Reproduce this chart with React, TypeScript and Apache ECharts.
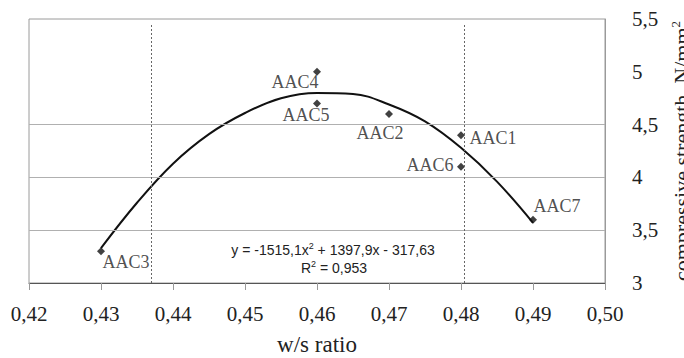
import React, { useEffect, useRef } from "react";
import * as echarts from "echarts";

// Measured points: [w/s ratio, compressive strength]
const pointNames = ["AAC3", "AAC4", "AAC5", "AAC2", "AAC1", "AAC6", "AAC7"];
const pointX = [0.43, 0.46, 0.46, 0.47, 0.48, 0.48, 0.49];
const pointY = [3.3, 5.0, 4.7, 4.6, 4.4, 4.1, 3.6];

// Trend curve values
const trendX = [0.43, 0.435, 0.44, 0.445, 0.45, 0.455, 0.46, 0.465, 0.47, 0.475, 0.48, 0.485, 0.49];
const trendY = [3.33, 3.76, 4.13, 4.41, 4.61, 4.75, 4.80, 4.79, 4.69, 4.53, 4.28, 3.96, 3.57];

// Reference lines
const gridLevels = [3.5, 4, 4.5];
const dottedX = [0.437, 0.4805];

const xName = "w/s ratio";
const yName = "compressive strength, N/mm";
const equationText = "y = -1515,1x{sup|2} + 1397,9x - 317,63";
const r2Text = "R{sup|2} = 0,953";

// label offsets (style only)
const labelOffsets: Record<string, [number, number]> = {
  AAC3: [25, 11],
  AAC4: [-22, 10],
  AAC5: [-11, 12],
  AAC2: [-9, 19],
  AAC1: [32, 3],
  AAC6: [-31, -2],
  AAC7: [24, -14],
};

const serif = "Liberation Serif";
const sans = "Liberation Sans";

export default function App() {
  const ref = useRef<HTMLDivElement>(null);
  useEffect(() => {
    if (!ref.current) return;
    const chart = echarts.init(ref.current, undefined, { renderer: "svg" });
    const fmt = (v: number, d: number) => v.toFixed(d).replace(".", ",");
    chart.setOption({
      animation: false,
      backgroundColor: "#ffffff",
      textStyle: { fontFamily: serif, color: "#222" },
      grid: {
        left: 29,
        right: 79,
        top: 19,
        bottom: 75,
        outerBoundsMode: "none",
        containLabel: false,
        show: true,
        borderColor: "#9a9a9a",
        borderWidth: 1,
        backgroundColor: "transparent",
      },
      xAxis: {
        type: "value",
        min: 0.42,
        max: 0.5,
        interval: 0.01,
        name: xName,
        nameLocation: "middle",
        nameGap: 50,
        nameTextStyle: { fontFamily: serif, fontSize: 23, color: "#222" },
        axisLine: { show: true, onZero: false, lineStyle: { color: "#555", width: 1 } },
        axisTick: { show: true, inside: false, length: 7, lineStyle: { color: "#999" } },
        axisLabel: {
          margin: 20,
          fontFamily: serif,
          fontSize: 21,
          color: "#222",
          formatter: (v: number) => fmt(v, 2),
        },
        splitLine: { show: false },
      },
      yAxis: {
        type: "value",
        position: "right",
        min: 3,
        max: 5.5,
        interval: 0.5,
        name: `${yName}{sup|2}`,
        nameLocation: "middle",
        nameRotate: 90,
        nameGap: 44,
        nameTextStyle: {
          fontFamily: serif,
          fontSize: 22,
          color: "#222",
          rich: {
            sup: { fontFamily: serif, fontSize: 13, color: "#222", padding: [0, 0, 12, 0] },
          },
        },
        axisLine: { show: true, lineStyle: { color: "#9a9a9a", width: 1 } },
        axisTick: { show: false },
        axisLabel: {
          margin: 27,
          fontFamily: serif,
          fontSize: 21,
          color: "#222",
          formatter: (v: number) => String(v).replace(".", ","),
        },
        splitLine: { show: false },
      },
      graphic: [
        {
          type: "text",
          x: 333,
          y: 250,
          style: {
            text: equationText,
            fontFamily: sans,
            fontSize: 14,
            fill: "#222",
            align: "center",
            verticalAlign: "middle",
            rich: {
              sup: { fontFamily: sans, fontSize: 9, fill: "#222", padding: [0, 0, 8, 0] },
            },
          },
        },
        {
          type: "text",
          x: 334,
          y: 268,
          style: {
            text: r2Text,
            fontFamily: sans,
            fontSize: 14,
            fill: "#222",
            align: "center",
            verticalAlign: "middle",
            rich: {
              sup: { fontFamily: sans, fontSize: 9, fill: "#222", padding: [0, 0, 8, 0] },
            },
          },
        },
      ],
      series: [
        {
          type: "line",
          silent: true,
          data: [],
          markLine: {
            silent: true,
            symbol: ["none", "none"],
            label: { show: false },
            data: [
              ...gridLevels.map((v) => ({
                yAxis: v,
                lineStyle: { color: "#b0b0b0", type: "solid", width: 1 },
              })),
              ...dottedX.map((v) => [
                { coord: [v, 3], lineStyle: { color: "#666", type: [2, 2], width: 1 } },
                { coord: [v, 5.45] },
              ]),
            ],
          },
        },
        {
          type: "line",
          smooth: 0.4,
          showSymbol: false,
          silent: true,
          lineStyle: { color: "#111", width: 2 },
          data: trendX.map((x, i) => [x, trendY[i]]),
          z: 3,
        },
        {
          type: "scatter",
          symbol: "diamond",
          symbolSize: 8,
          itemStyle: { color: "#111" },
          z: 4,
          data: pointNames.map((n, i) => ({
            name: n,
            value: [pointX[i], pointY[i]],
            label: {
              show: true,
              position: "inside",
              offset: labelOffsets[n],
              formatter: n,
              fontFamily: serif,
              fontSize: 18,
              color: "#222",
            },
          })),
        },
      ],
    });
    return () => chart.dispose();
  }, []);
  return (
    <div
      ref={ref}
      style={{ position: "fixed", left: 0, top: 0, width: 684, height: 358, background: "#fff" }}
    />
  );
}
